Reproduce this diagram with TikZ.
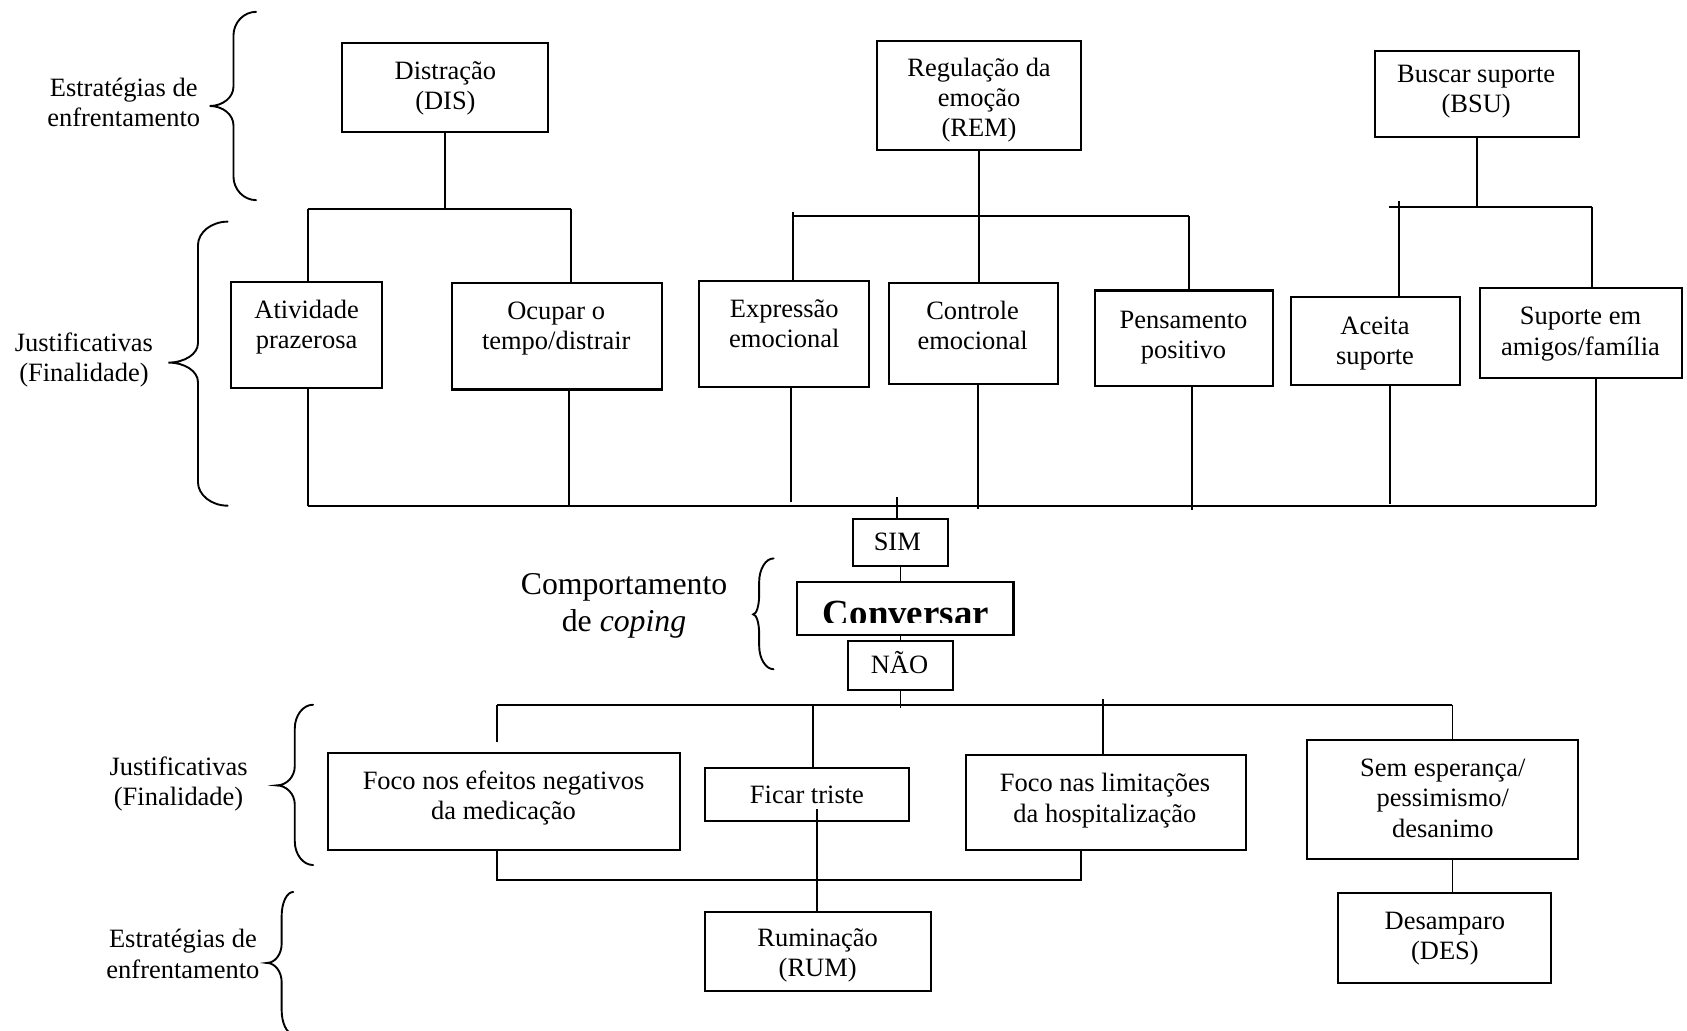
\documentclass[tikz,border=0pt]{standalone}
\usepackage{fontspec}
\setmainfont{Liberation Serif}
\usetikzlibrary{fit}

\newcommand\boxfont{\fontsize{14pt}{16pt}\selectfont}
\newcommand\bigfont{\fontsize{16.8pt}{19.8pt}\selectfont}
\newcommand\headfont{\fontsize{19.5pt}{22pt}\selectfont\bfseries}

% curly bracket opening to the left: x right end, x stem, x tip, y top, y tip, y bottom
\newcommand\drawcurl[6]{%
  \draw[curl] (#1,#4) .. controls ({#1-0.55*(#1-#2)},#4) and (#2,{#4+10}) .. (#2,{#4+22})
    -- (#2,{#5-18}) .. controls (#2,{#5-8}) and ({#3+0.55*(#2-#3)},#5) .. (#3,#5)
    .. controls ({#3+0.55*(#2-#3)},#5) and (#2,{#5+8}) .. (#2,{#5+18})
    -- (#2,{#6-22}) .. controls (#2,{#6-10}) and ({#1-0.55*(#1-#2)},#6) .. (#1,#6);
}

\begin{document}
\begin{tikzpicture}[x=0.02cm,y=-0.02cm,
  box/.style={draw, line width=1.1pt, inner sep=0pt},
  txt/.style={align=center, inner sep=0pt, font=\boxfont, anchor=base},
  bigtxt/.style={align=center, inner sep=0pt, font=\bigfont, anchor=base},
  wire/.style={line width=1pt},
  curl/.style={line width=1pt, line cap=round}]

\fill[white] (0,0) rectangle (1568,958);
\useasboundingbox (0,0) rectangle (1568,958);

% ---------- boxes ----------
\node[box, fit={(318,40) (509,123)}] (dis) {};
\node[box, fit={(815,38) (1005,139)}] (rem) {};
\node[box, fit={(1278,47) (1468,127)}] (bsu) {};
\node[box, fit={(215,262) (355,361)}] (atv) {};
\node[box, fit={(420,263) (615,362)}] (ocp) {};
\node[box, fit={(650,261) (808,360)}] (exp) {};
\node[box, fit={(826,263) (983,357)}] (ctl) {};
\node[box, fit={(1018,270) (1183,359)}] (pen) {};
\node[box, fit={(1200,276) (1357,358)}] (ace) {};
\node[box, fit={(1376,268) (1563,351)}] (sup) {};
\node[box, fit={(793,482) (881,526)}] (sim) {};
\node[box, fit={(741,541) (942,590)}] (con) {};
\node[box, fit={(788,596) (886,641)}] (nao) {};
\node[box, fit={(305,700) (632,790)}] (efe) {};
\node[box, fit={(655,714) (845,763)}] (tri) {};
\node[box, fit={(898,702) (1158,790)}] (lim) {};
\node[box, fit={(1215,688) (1467,798)}] (sem) {};
\node[box, fit={(655,848) (865,921)}] (rum) {};
\node[box, fit={(1244,830) (1442,914)}] (des) {};

% ---------- box texts (placed by the baseline of their last line) ----------
\node[txt] (dis-t) at (414,102) {Distração\\(DIS)};
\node[txt] (rem-t) at (910,127) {Regulação da\\emoção\\(REM)};
\node[txt] (bsu-t) at (1372,105) {Buscar suporte\\(BSU)};
\node[txt] (atv-t) at (285,324) {Atividade\\prazerosa};
\node[txt] (ocp-t) at (517,325) {Ocupar o\\tempo/distrair};
\node[txt] (exp-t) at (729,323) {Expressão\\emocional};
\node[txt] (ctl-t) at (904,325) {Controle\\emocional};
\node[txt] (pen-t) at (1100,333) {Pensamento\\positivo};
\node[txt] (ace-t) at (1278,339) {Aceita\\suporte};
\node[txt] (sup-t) at (1469,330) {Suporte em\\amigos/família};
\node[txt] (sim-t) at (834,512) {SIM};
\node[txt] (nao-t) at (836,626) {NÃO};
\node[txt] (efe-t) at (468,762) {Foco nos efeitos negativos\\da medicação};
\node[txt] (tri-t) at (750,747) {Ficar triste};
\node[txt] (lim-t) at (1027,764) {Foco nas limitações\\da hospitalização};
\node[txt] (sem-t) at (1341,778) {Sem esperança/\\pessimismo/\\desanimo};
\node[txt] (rum-t) at (760,908) {Ruminação\\(RUM)};
\node[txt] (des-t) at (1343,892) {Desamparo\\(DES)};

% the central behaviour, its lower edge cut off by the box margin
\begin{scope}
  \clip (con.north west) rectangle (942,579);
  \node[font=\headfont, anchor=base, inner sep=0pt] (con-t) at (842,581) {Conversar};
\end{scope}

% ---------- side labels ----------
\node[txt] (lab1) at (115,118) {Estratégias de\\enfrentamento};
\node[txt] (lab2) at (78,355) {Justificativas\\(Finalidade)};
\node[txt] (lab3) at (166,749) {Justificativas\\(Finalidade)};
\node[txt] (lab4) at (170,909) {Estratégias de\\enfrentamento};
\node[bigtxt] (cop) at (580,587) {Comportamento\\de \textit{coping}};

\drawcurl{238}{217}{195}{11}{98.5}{186}
\drawcurl{211.6}{184}{156.5}{206}{337}{470}
\drawcurl{291}{274}{257}{655}{730}{804}
\drawcurl{272.6}{261.8}{248}{829}{895}{961}
\drawcurl{719}{705.6}{700}{519}{571}{622}

% ---------- upper tree ----------
\coordinate (disJ) at (414,194);
\coordinate (disL) at (286,194);
\coordinate (disR) at (531,194);
\draw[wire] (dis.south) -- (dis.south |- disJ);
\draw[wire] (disL) -- (disR);
\draw[wire] (disL) -- (disL |- atv.north);
\draw[wire] (disR) -- (disR |- ocp.north);

\coordinate (remL) at (737,201);
\coordinate (remLt) at (737,197);
\coordinate (remR) at (1105,201);
\draw[wire] (rem.south) -- (rem.south |- ctl.north);
\draw[wire] (remL) -- (remR);
\draw[wire] (remLt) -- (remLt |- exp.north);
\draw[wire] (remR) -- (remR |- pen.north);

\coordinate (bsuJ) at (1374,192);
\coordinate (bsuL) at (1291,192);
\coordinate (bsuR) at (1480,192);
\coordinate (aceT) at (1300,187);
\draw[wire] (bsu.south) -- (bsu.south |- bsuJ);
\draw[wire] (bsuL) -- (bsuR);
\draw[wire] (aceT) -- (aceT |- ace.north);
\draw[wire] (bsuR) -- (bsuR |- sup.north);

% ---------- gathering line and central column ----------
\coordinate (busL) at (286,470);
\coordinate (busR) at (1483,470);
\coordinate (b2) at (529,470);
\coordinate (b3) at (735,467);
\coordinate (b4) at (909,473);
\coordinate (b5) at (1108,474);
\coordinate (b6) at (1292,468);
\draw[wire] (busL) -- (busR);
\draw[wire] (atv.south -| busL) -- (busL);
\draw[wire] (ocp.south -| b2) -- (b2);
\draw[wire] (exp.south -| b3) -- (b3);
\draw[wire] (ctl.south -| b4) -- (b4);
\draw[wire] (pen.south -| b5) -- (b5);
\draw[wire] (ace.south -| b6) -- (b6);
\draw[wire] (sup.south -| busR) -- (busR);

\coordinate (simT) at (834,462);
\coordinate (naoB) at (837,658);
\draw[wire] (simT) -- (simT |- sim.north);
\draw[wire] (sim.south) -- (sim.south |- con.north);
\draw[wire] (nao.north) -- (nao.north |- con.south);
\draw[wire] (nao.south) -- (naoB);

% ---------- lower tree ----------
\coordinate (nL) at (462,655);
\coordinate (nR) at (1350,655);
\coordinate (efeT) at (462,690);
\coordinate (n2) at (756,655);
\coordinate (n3) at (1025,650);
\draw[wire] (nL) -- (nR);
\draw[wire] (nL) -- (efeT);
\draw[wire] (n2) -- (n2 |- tri.north);
\draw[wire] (n3) -- (n3 |- lim.north);
\draw[wire] (nR) -- (nR |- sem.north);

\coordinate (jL) at (462,818);
\coordinate (jR) at (1005,818);
\coordinate (rumS) at (759,752);
\coordinate (dx) at (1350,800);
\draw[wire] (efe.south -| jL) -- (jL) -- (jR) -- (jR |- lim.south);
\draw[wire] (rumS) -- (rumS |- rum.north);
\draw[wire] (sem.south -| dx) -- (des.north -| dx);

\end{tikzpicture}
\end{document}
